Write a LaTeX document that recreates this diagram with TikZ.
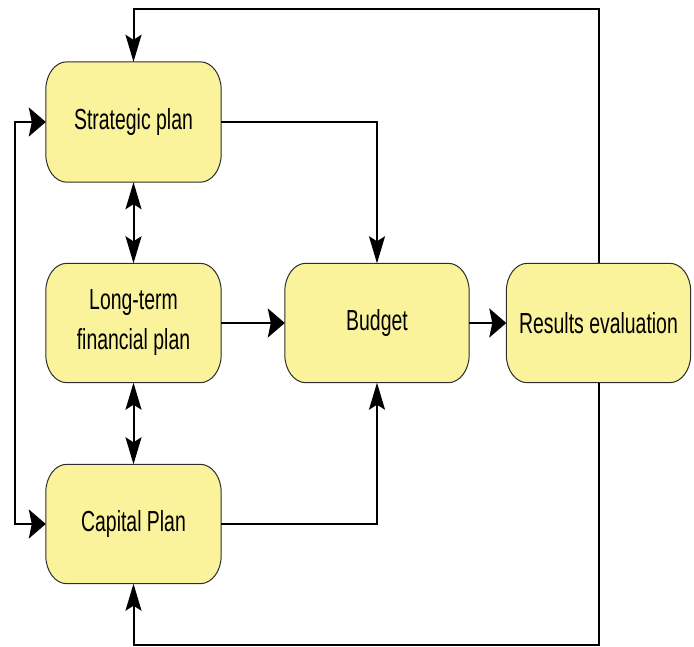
\documentclass[tikz,border=0pt]{standalone}
\usepackage{fontspec}
\setmainfont{Liberation Sans}[FakeStretch=0.67]
\usetikzlibrary{arrows.meta,backgrounds,calc}
\definecolor{boxfill}{RGB}{250,243,155}
\definecolor{boxline}{RGB}{45,45,45}
\tikzset{
  proc/.style={rectangle, inner sep=0pt, align=center,
    font=\fontsize{29}{40}\selectfont},
  boxsty/.style={fill=boxfill, draw=boxline, line width=1pt},
  conn/.style={line width=2pt, black},
  vtip/.tip={Stealth[length=27pt,width=16pt,inset=5pt]},
  htip/.tip={Stealth[length=17pt,width=29pt,inset=3pt]},
}
\newcommand\roundbox[1]{%
  \path[boxsty] ([xshift=21pt]#1.north west) -- ([xshift=-21pt]#1.north east)
    arc[start angle=90,end angle=0,x radius=21pt,y radius=28pt]
    -- ([yshift=28pt]#1.south east)
    arc[start angle=0,end angle=-90,x radius=21pt,y radius=28pt]
    -- ([xshift=21pt]#1.south west)
    arc[start angle=270,end angle=180,x radius=21pt,y radius=28pt]
    -- ([yshift=-28pt]#1.north west)
    arc[start angle=180,end angle=90,x radius=21pt,y radius=28pt]
    -- cycle;}
\begin{document}
\begin{tikzpicture}[x=1pt,y=1pt]
\useasboundingbox (0,0) rectangle (694,-646);
\node[proc, minimum width=175pt, minimum height=120pt] (sp) at (133.5,-122) {Strategic plan};
\node[proc, minimum width=175pt, minimum height=119pt] (lt) at (133.5,-323) {Long-term\\financial plan};
\node[proc, minimum width=175pt, minimum height=119pt] (cp) at (133.5,-524) {Capital Plan};
\node[proc, minimum width=184pt, minimum height=119pt] (bu) at (377,-323) {Budget};
\node[proc, minimum width=184pt, minimum height=119pt] (re) at (598.5,-323) {Results evaluation};
\begin{scope}[on background layer]
  \roundbox{sp}\roundbox{lt}\roundbox{cp}\roundbox{bu}\roundbox{re}
\end{scope}
\coordinate (topy) at (0,-9);
\coordinate (boty) at (0,-644.5);
\coordinate (leftx) at (15,0);
% feedback loops
\draw[conn,-vtip] (re.north) -- (re.north |- topy) -| (sp.north);
\draw[conn,-vtip] (re.south) -- (re.south |- boty) -| (cp.south);
% left link
\draw[conn,htip-htip] (sp.west) -- (sp.west -| leftx) -- (cp.west -| leftx) -- (cp.west);
% vertical double arrows
\draw[conn,vtip-vtip] (sp.south) -- (lt.north);
\draw[conn,vtip-vtip] (lt.south) -- (cp.north);
% into budget
\draw[conn,-vtip] (sp.east) -| (bu.north);
\draw[conn,-vtip] (cp.east) -| (bu.south);
\draw[conn,-htip] (lt.east) -- (bu.west);
\draw[conn,-htip] (bu.east) -- (re.west);
\end{tikzpicture}
\end{document}
